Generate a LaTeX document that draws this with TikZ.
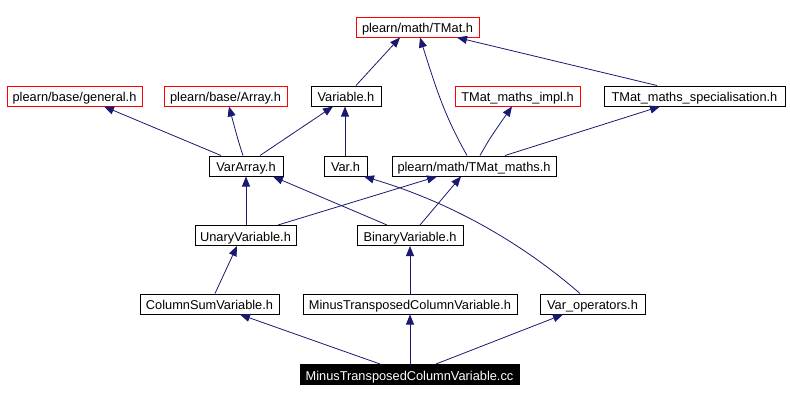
\documentclass[tikz,border=0pt]{standalone}
\usepackage{fontspec}
\setmainfont{Liberation Sans}
\usetikzlibrary{arrows.meta,calc}
\definecolor{edgecol}{HTML}{191970}
\begin{document}
\begin{tikzpicture}[x=0.75pt,y=-0.75pt,
  box/.style={draw=black,line width=0.75pt,inner sep=0pt,minimum height=15pt,text height=8.9pt,text depth=0pt,font=\fontsize{9.6}{11}\selectfont,text=black},
  redbox/.style={box,draw=red},
  selbox/.style={box,fill=black,text=white},
  dep/.style={draw=edgecol,line width=0.6pt,-{Triangle[length=7.5pt,width=6pt]}}]
\useasboundingbox (0,0) rectangle (790,401);
% nodes
\node[redbox,minimum width=92.25pt] (tmat) at (417.5,27) {plearn/math/TMat.h};
\node[redbox,minimum width=101.25pt] (general) at (74.5,96) {plearn/base/general.h};
\node[redbox,minimum width=92.25pt] (array) at (225.5,96) {plearn/base/Array.h};
\node[box,minimum width=52.5pt] (variable) at (346,96) {Variable.h};
\node[redbox,minimum width=93.75pt] (impl) at (517.5,96) {TMat\_maths\_impl.h};
\node[box,minimum width=135.75pt] (spec) at (694.5,96) {TMat\_maths\_specialisation.h};
\node[box,minimum width=55.5pt] (vararray) at (246,166) {VarArray.h};
\node[box,minimum width=32.25pt] (var) at (345.5,166) {Var.h};
\node[box,minimum width=123pt] (tmaths) at (474,166) {plearn/math/TMat\_maths.h};
\node[box,minimum width=75.75pt] (unary) at (245.5,235.5) {UnaryVariable.h};
\node[box,minimum width=79.5pt] (binary) at (410,235.5) {BinaryVariable.h};
\node[box,minimum width=104.25pt] (colsum) at (209.5,304) {ColumnSumVariable.h};
\node[box,minimum width=160.5pt] (mtcvh) at (410,304) {MinusTransposedColumnVariable.h};
\node[box,minimum width=78.75pt] (varop) at (592.5,304) {Var\_operators.h};
\node[selbox,minimum width=164.25pt] (cc) at (409.5,374.5) {MinusTransposedColumnVariable.cc};
% edges
\draw[dep] ($(variable.north)+(10,0)$) -- ($(tmat.south)+(-17.5,0)$);
\draw[dep] ($(tmaths.north)+(-7,0)$) .. controls (446,118) and (438,95) .. ($(tmat.south)+(2.5,0)$);
\draw[dep] ($(spec.north)+(-37.5,0)$) -- ($(tmat.south)+(39.5,0)$);
\draw[dep] ($(vararray.north)+(-25,0)$) -- ($(general.south)+(29.5,0)$);
\draw[dep] ($(vararray.north)+(-3,0)$) .. controls (238,140) .. ($(array.south)+(3.5,0)$);
\draw[dep] ($(vararray.north)+(14,0)$) -- ($(variable.south)+(-13,0)$);
\draw[dep] ($(var.north)+(-0.5,0)$) -- ($(variable.south)+(-1,0)$);
\draw[dep] ($(tmaths.north)+(6,0)$) .. controls (490,138) .. ($(impl.south)+(-5.5,0)$);
\draw[dep] ($(tmaths.north)+(31,0)$) -- ($(spec.south)+(-34.5,0)$);
\draw[dep] ($(unary.north)+(0.5,0)$) -- (vararray.south);
\draw[dep] ($(unary.north)+(32.5,0)$) -- ($(tmaths.south)+(-37,0)$);
\draw[dep] ($(binary.north)+(-23,0)$) -- ($(vararray.south)+(27,0)$);
\draw[dep] ($(binary.north)+(10,0)$) -- ($(tmaths.south)+(-13,0)$);
\draw[dep] ($(varop.north)+(-12.5,0)$) .. controls (530,250) and (460,205) .. ($(var.south)+(18.5,0)$);
\draw[dep] ($(colsum.north)+(5.5,0)$) -- ($(unary.south)+(-8.5,0)$);
\draw[dep] (mtcvh.north) -- (binary.south);
\draw[dep] ($(cc.north)+(-29.5,0)$) -- ($(colsum.south)+(30.5,0)$);
\draw[dep] ($(cc.north)+(0.5,0)$) -- (mtcvh.south);
\draw[dep] ($(cc.north)+(26.5,0)$) -- ($(varop.south)+(-29.5,0)$);
\end{tikzpicture}
\end{document}
